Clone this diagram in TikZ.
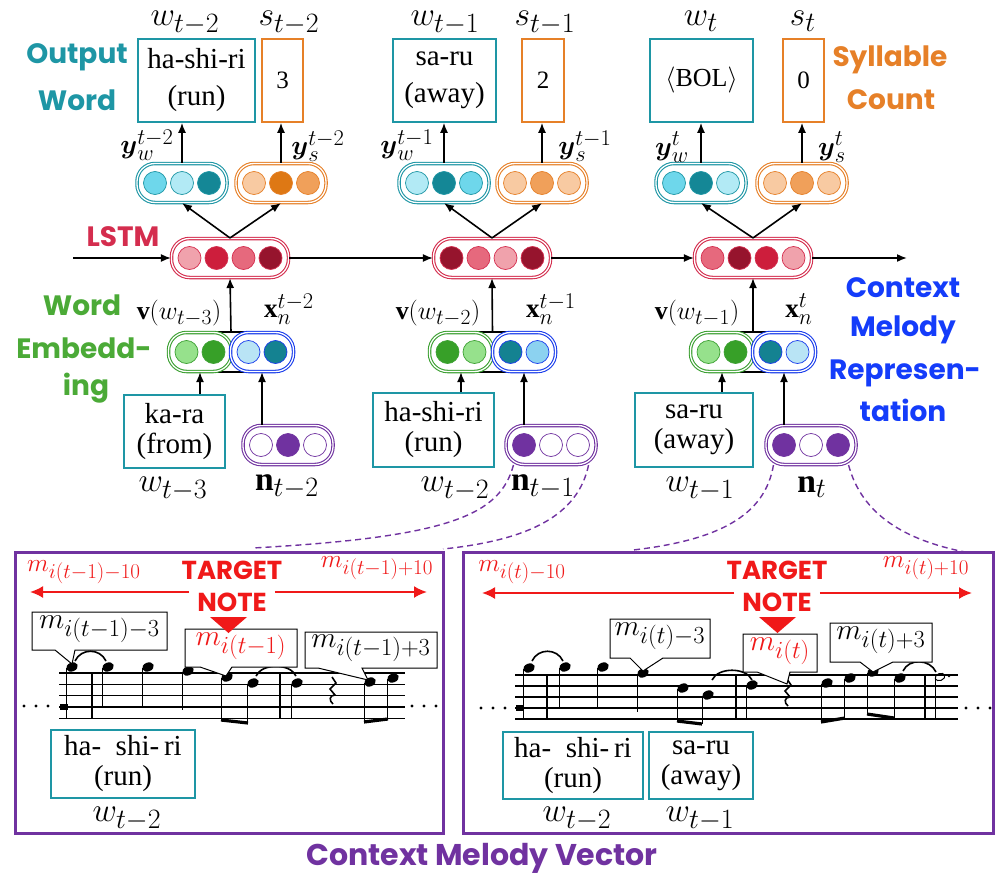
\RequirePackage{fix-cm}
\documentclass[tikz,border=0pt]{standalone}
\usepackage{amsmath}
\usepackage{graphicx}
\usepackage{fontspec}
\setmainfont{Liberation Serif}
\newfontfamily\labfont{Poppins}
\usetikzlibrary{arrows.meta,calc}
\pgfdeclarelayer{bg}
\pgfsetlayers{bg,main}
\DeclareMathSizes{20.74}{20.74}{17.28}{14.4}
\newcommand{\mA}[1]{\scalebox{1.62}{$#1$}}
\newcommand{\mY}[1]{\scalebox{1.3}{$#1$}}
\newcommand{\mV}[1]{\scalebox{1.25}{$#1$}}
\newcommand{\mC}[1]{\scalebox{1.42}{$#1$}}
\newcommand{\mR}[1]{\scalebox{1.22}{$#1$}}
\definecolor{tealc}{RGB}{30,150,165}
\definecolor{orc}{RGB}{230,128,40}
\definecolor{lstmc}{RGB}{212,45,78}
\definecolor{grc}{RGB}{60,160,50}
\definecolor{blc}{RGB}{25,60,235}
\definecolor{puc}{RGB}{112,50,160}
\definecolor{redc}{RGB}{240,25,25}
\definecolor{ctxc}{RGB}{20,60,250}
\definecolor{wordc}{RGB}{75,170,55}
\definecolor{ca}{RGB}{178,234,245}
\definecolor{cb}{RGB}{110,215,235}
\definecolor{cc}{RGB}{20,135,150}
\definecolor{oa}{RGB}{248,202,162}
\definecolor{ob}{RGB}{240,160,90}
\definecolor{oc}{RGB}{222,120,20}
\definecolor{la}{RGB}{240,162,172}
\definecolor{lb}{RGB}{230,105,125}
\definecolor{lc}{RGB}{205,30,60}
\definecolor{ld}{RGB}{150,20,45}
\definecolor{ga}{RGB}{150,225,140}
\definecolor{gb}{RGB}{55,160,40}
\definecolor{ba}{RGB}{185,228,245}
\definecolor{bb}{RGB}{140,210,240}
\definecolor{bc}{RGB}{20,130,145}
\newcommand{\mypill}[5]{%
  \node[pill, draw=#4, minimum width={#3*27+9}] (#1) at (#2) {};
  \foreach \f [count=\i] in {#5} {%
    \filldraw[fill=\f, draw=#4, line width=0.7pt] ($(#1.center)+({(\i-(#3+1)/2)*27},0)$) circle (11.5);
  }%
}
\newcommand{\mynt}[3]{%
  \fill[rotate around={22:(#1,#2)}] (#1,#2) ellipse (6 and 4.4);
  \draw[line width=1.3pt] ({#1-5.2},{#2+1}) -- ({#1-5.2},#3);}
\newcommand{\mybarl}[3]{\draw[line width=2.6pt] (#1,#2) -- (#1,#3);}
\newcommand{\mybeam}[4]{\draw[line width=3.2pt] (#1,#2) -- (#3,#4);}
\newcommand{\mytie}[4]{\draw[line width=1.6pt] (#1,#2) .. controls ({#1+6},{#2-13}) and ({#3-6},{#4-13}) .. (#3,#4);}
\newcommand{\myrest}[2]{\draw[line width=1.6pt] (#1,#2) -- ({#1+4},{#2+6}) -- ({#1-2},{#2+12}) -- ({#1+3},{#2+18}) .. controls ({#1-3},{#2+18}) and ({#1-3},{#2+24}) .. ({#1+1},{#2+27});}
\begin{document}
\begin{tikzpicture}[x=1pt,y=-1pt,
  pill/.style={fill=white, double=white, double distance=1.3pt, line width=1.1pt, rounded corners=18pt, minimum height=39, inner sep=0},
  wbox/.style={draw=tealc, line width=1.6pt, inner sep=0, align=center, fill=white},
  sbox/.style={draw=orc, line width=1.6pt, inner sep=0, align=center, font=\fontsize{25}{30}\selectfont},
  mlab/.style={inner sep=0, font=\fontsize{20.74}{24}\selectfont},
  rlab/.style={mlab, redc},
  lab/.style={inner sep=0, font=\labfont\bfseries\fontsize{28}{32}\selectfont},
  arr/.style={-{Latex[length=10pt,width=8pt]}, line width=1.6pt},
  redarr/.style={-{Latex[length=13pt,width=12pt]}, line width=2pt, redc},
  dsh/.style={puc, line width=1.4pt, dash pattern=on 6pt off 4pt},
  callsty/.style={draw=black, line width=1pt, fill=white},
  topt/.style={font=\fontsize{29}{37}\selectfont},
  lowt/.style={font=\fontsize{29}{30}\selectfont}]
\useasboundingbox (0,0) rectangle (996,875);

% ---------- output boxes ----------
\node[wbox, topt, minimum width=117, minimum height=83] (w1) at (196.5,80.5) {ha-shi-ri\\(run)};
\node[sbox, minimum width=41, minimum height=83] (s1) at (282.5,80.5) {3};
\node[wbox, topt, minimum width=103, minimum height=83] (w2) at (444.5,80.5) {sa-ru\\(away)};
\node[sbox, minimum width=42, minimum height=83] (s2) at (543,80.5) {2};
\node[wbox, font=\fontsize{26}{30}\selectfont, minimum width=103, minimum height=83] (w3) at (701.5,80.5) {$\langle$BOL$\rangle$};
\node[sbox, minimum width=41, minimum height=83] (s3) at (803.5,80.5) {0};

\node[mlab] (lw1) at (185,23) {\mA{w_{t-2}}};
\node[mlab] (ls1) at (289,23) {\mA{s_{t-2}}};
\node[mlab] (lw2) at (445,23) {\mA{w_{t-1}}};
\node[mlab] (ls2) at (545,23) {\mA{s_{t-1}}};
\node[mlab] (lw3) at (701,21) {\mA{w_t}};
\node[mlab] (ls3) at (803,21) {\mA{s_t}};

\node[lab, tealc] (out1) at (77,57) {Output};
\node[lab, tealc] (out2) at (77,100) {Word};
\node[lab, orc] (syl1) at (890,60) {Syllable};
\node[lab, orc] (syl2) at (891,100) {Count};

% ---------- output pills ----------
\mypill{yw1}{182,183}{3}{tealc}{cb,ca,cc}
\mypill{ys1}{281,183}{3}{orc}{oa,oc,ob}
\mypill{yw2}{444,183}{3}{tealc}{ca,cc,cb}
\mypill{ys2}{542,183}{3}{orc}{oa,ob,oa}
\mypill{yw3}{701,183}{3}{tealc}{cb,cc,ca}
\mypill{ys3}{802,183}{3}{orc}{oa,ob,oa}

\node[mlab] (lyw1) at (147,145) {\mY{\boldsymbol{y}_w^{t-2}}};
\node[mlab] (lys1) at (318,146) {\mY{\boldsymbol{y}_s^{t-2}}};
\node[mlab] (lyw2) at (407,145) {\mY{\boldsymbol{y}_w^{t-1}}};
\node[mlab] (lys2) at (585,146) {\mY{\boldsymbol{y}_s^{t-1}}};
\node[mlab] (lyw3) at (672,147) {\mY{\boldsymbol{y}_w^{t}}};
\node[mlab] (lys3) at (832,147) {\mY{\boldsymbol{y}_s^{t}}};

\foreach \c in {1,2,3} {
  \draw[arr] (yw\c.north) -- (yw\c.north |- w\c.south);
  \draw[arr] (ys\c.north) -- (ys\c.north |- s\c.south);
}

% ---------- LSTM ----------
\mypill{lstm1}{230,258}{4}{lstmc}{la,lc,lb,ld}
\mypill{lstm2}{492,258}{4}{lstmc}{ld,lb,la,ld}
\mypill{lstm3}{753,258}{4}{lstmc}{lb,ld,lc,la}
\node[lab, lstmc] (lstmt) at (123,237) {LSTM};
\coordinate (hstart) at (73,258);
\coordinate (hend) at (907,258);
\draw[arr] (hstart) -- (lstm1.west);
\draw[arr] (lstm1.east) -- (lstm2.west);
\draw[arr] (lstm2.east) -- (lstm3.west);
\draw[arr] (lstm3.east) -- (hend);
\foreach \c in {1,2,3} {
  \draw[arr] (lstm\c.north) -- (yw\c.south);
  \draw[arr] (lstm\c.north) -- (ys\c.south);
}

% ---------- embeddings ----------
\mypill{emg1}{200,352}{2}{grc}{ga,gb}
\mypill{emb1}{262,352}{2}{blc}{ba,bc}
\mypill{emg2}{461,352}{2}{grc}{gb,ga}
\mypill{emb2}{524,352}{2}{blc}{bc,bb}
\mypill{emg3}{722,352}{2}{grc}{ga,gb}
\mypill{emb3}{784,352}{2}{blc}{bc,ba}
\begin{pgfonlayer}{bg}
\foreach \c in {1,2,3} {
  \draw[line width=1.3pt] (emg\c.center |- emg\c.north) rectangle (emb\c.center |- emb\c.south);
}
\end{pgfonlayer}
\foreach \c in {1,2,3} {
  \draw[arr] ($(emg\c.north)!0.5!(emb\c.north)$) -- (lstm\c.south);
}
\node[mlab] (lv1) at (179,313) {\mV{\mathbf{v}(w_{t-3})}};
\node[mlab] (lx1) at (289,309) {\mY{\mathbf{x}_n^{t-2}}};
\node[mlab] (lv2) at (438,313) {\mV{\mathbf{v}(w_{t-2})}};
\node[mlab] (lx2) at (551,309) {\mY{\mathbf{x}_n^{t-1}}};
\node[mlab] (lv3) at (697,313) {\mV{\mathbf{v}(w_{t-1})}};
\node[mlab] (lx3) at (799,309) {\mY{\mathbf{x}_n^{t}}};

\node[lab, wordc] (we1) at (82,305) {Word};
\node[lab, wordc] (we2) at (84,348) {Embedd-};
\node[lab, wordc] (we3) at (86,388) {ing};

\node[lab, ctxc] (cm1) at (903,288) {Context};
\node[lab, ctxc] (cm2) at (903,330) {Melody};
\node[lab, ctxc] (cm3) at (905,373) {Represen-};
\node[lab, ctxc] (cm4) at (903,410) {tation};

% ---------- inputs ----------
\node[wbox, lowt, minimum width=101, minimum height=73] (in1) at (174.5,431.5) {ka-ra\\(from)};
\node[wbox, lowt, minimum width=121, minimum height=74] (in2) at (433.5,430) {ha-shi-ri\\(run)};
\node[wbox, lowt, minimum width=118, minimum height=74] (in3) at (694,430) {sa-ru\\(away)};
\mypill{n1}{288,445}{3}{puc}{white,puc,white}
\mypill{n2}{551,445}{3}{puc}{puc,white,white}
\mypill{n3}{811,445}{3}{puc}{puc,white,puc}
\foreach \c in {1,2,3} {
  \draw[arr] (emg\c.south |- in\c.north) -- (emg\c.south);
  \draw[arr] (emb\c.south |- n\c.north) -- (emb\c.south);
}
\node[mlab] (lin1) at (173,489) {\mA{w_{t-3}}};
\node[mlab] (ln1) at (287,487) {\mA{\mathbf{n}_{t-2}}};
\node[mlab] (lin2) at (455,489) {\mA{w_{t-2}}};
\node[mlab] (ln2) at (543,487) {\mA{\mathbf{n}_{t-1}}};
\node[mlab] (lin3) at (700,489) {\mA{w_{t-1}}};
\node[mlab] (ln3) at (812,487) {\mA{\mathbf{n}_{t}}};

% ---------- bottom boxes ----------
\node[draw=puc, line width=3pt, minimum width=428, minimum height=281, inner sep=0] (lbox) at (229,692.5) {};
\node[draw=puc, line width=3pt, minimum width=530, minimum height=281, inner sep=0] (rbox) at (728,692.5) {};
\node[lab, puc, font=\labfont\bfseries\fontsize{30}{34}\selectfont] (cmv) at (482,858) {Context Melody Vector};

\coordinate (d1) at (253,548);
\coordinate (d2) at (443,549);
\coordinate (d3) at (633,550);
\coordinate (d4) at (965,552);
\draw[dsh] ($(n2.south west)+(8,0)$) .. controls (500,515) and (450,537) .. (d1);
\draw[dsh] ($(n2.south east)+(-8,0)$) .. controls (578,515) and (530,540) .. (d2);
\draw[dsh] ($(n3.south west)+(8,0)$) .. controls (765,515) and (720,540) .. (d3);
\draw[dsh] ($(n3.south east)+(-8,0)$) .. controls (862,515) and (905,540) .. (d4);

% ---------- left melody ----------
\node[rlab] (lm10a) at (84,572) {\mR{m_{i(t-1)-10}}};
\node[rlab] (lm10b) at (377,568) {\mR{m_{i(t-1)+10}}};
\node[lab, redc, font=\labfont\bfseries\fontsize{26}{30}\selectfont] (ltg1) at (232,570) {TARGET};
\node[lab, redc, font=\labfont\bfseries\fontsize{26}{30}\selectfont] (ltg2) at (232,602) {NOTE};
\coordinate (la1) at (30,592);
\coordinate (la2) at (427,592);
\draw[redarr] (ltg2.west |- la1) ++(-8,0) -- (la1);
\draw[redarr] (ltg2.east |- la2) ++(8,0) -- (la2);

\foreach \y in {673,684.3,695.6,707,718.3} \draw[line width=1.1pt] (59,\y) -- (405,\y);
\foreach \x in {24,36,48} \fill (\x,706) circle (1.7);
\foreach \x in {412,424,436} \fill (\x,706) circle (1.7);
\fill (60,704) rectangle (68,710);
\mynt{72}{667}{719}
\mybarl{92}{673}{719}
\mynt{108}{667}{707}
\mytie{75}{661}{106}{661}
\mynt{148}{667}{707}
\mynt{188}{671}{710}
\mynt{227}{677}{721}
\mynt{253}{683}{723}
\mybeam{221}{720}{248}{723}
\mybarl{280}{673}{718}
\mynt{297}{683}{719}
\mytie{256}{676}{296}{676}
\myrest{332}{677}
\mynt{370}{682}{722}
\mynt{393}{678}{720}
\mybeam{364}{722}{388}{719}

\draw[callsty] (32,612) -- (167,612) -- (167,650) -- (75,650) -- (72,664) -- (55,650) -- (32,650) -- cycle;
\node[mlab] (lc1) at (99.5,629) {\mC{m_{i(t-1)-3}}};
\draw[callsty] (185,629) -- (297,629) -- (297,667) -- (232,667) -- (226,676) -- (200,667) -- (185,667) -- cycle;
\node[rlab] (lc2) at (241,646) {\mC{m_{i(t-1)}}};
\draw[callsty] (305,632) -- (437,632) -- (437,668) -- (362,668) -- (368,680) -- (318,668) -- (305,668) -- cycle;
\node[mlab] (lc3) at (371,648) {\mC{m_{i(t-1)+3}}};
\fill[redc] (210,617) -- (247,617) -- (228.5,633) -- cycle;

\node[wbox, font=\fontsize{29}{30}\selectfont, minimum width=144, minimum height=68] (bw1) at (123,764) {ha-\ \ shi-\,ri\\(run)};
\node[mlab] (lbw1) at (127,819) {\mA{w_{t-2}}};

% ---------- right melody ----------
\node[rlab] (rm10a) at (522,572) {\mR{m_{i(t)-10}}};
\node[rlab] (rm10b) at (926,568) {\mR{m_{i(t)+10}}};
\node[lab, redc, font=\labfont\bfseries\fontsize{26}{30}\selectfont] (rtg1) at (777,570) {TARGET};
\node[lab, redc, font=\labfont\bfseries\fontsize{26}{30}\selectfont] (rtg2) at (777,602) {NOTE};
\coordinate (ra1) at (482,593);
\coordinate (ra2) at (972,593);
\draw[redarr] (rtg2.west |- ra1) ++(-8,0) -- (ra1);
\draw[redarr] (rtg2.east |- ra2) ++(8,0) -- (ra2);

\foreach \y in {675,686,697,708,719} \draw[line width=1.1pt] (515,\y) -- (958,\y);
\foreach \x in {481,493,505} \fill (\x,708) circle (1.7);
\foreach \x in {966,978,990} \fill (\x,708) circle (1.7);
\fill (516,705) rectangle (524,711);
\mynt{529}{668}{719}
\mybarl{547}{675}{720}
\mynt{565}{667}{708}
\mytie{532}{661}{563}{661}
\mynt{603}{667}{708}
\mynt{643}{673}{712}
\mynt{683}{688}{721}
\mynt{708}{695}{724}
\mybeam{677}{721}{702}{724}
\mytie{712}{680}{752}{680}
\mybarl{736}{675}{720}
\mynt{752}{685}{720}
\myrest{787}{679}
\mynt{827}{683}{722}
\mynt{850}{678}{718}
\mybeam{821}{722}{845}{718}
\mynt{873}{672}{714}
\mynt{900}{678}{718}
\mybeam{867}{714}{894}{718}
\mytie{903}{671}{936}{672}
\mybarl{925}{675}{720}
\draw[line width=1pt, rotate around={20:(940,677)}] (940,677) ellipse (5 and 3.5);
\draw[line width=1.2pt] (935.5,678) -- (935.5,720);
\fill (949,676) circle (1.3);

\draw[callsty] (610,619) -- (710,619) -- (710,658) -- (663,658) -- (643,671) -- (630,658) -- (610,658) -- cycle;
\node[mlab] (rc1) at (660,636) {\mC{m_{i(t)-3}}};
\draw[callsty] (743,634) -- (817,634) -- (817,672) -- (790,672) -- (787,684) -- (757,672) -- (743,672) -- cycle;
\node[rlab] (rc2) at (780,651) {\mC{m_{i(t)}}};
\draw[callsty] (830,623) -- (932,623) -- (932,662) -- (893,662) -- (873,672) -- (860,662) -- (830,662) -- cycle;
\node[mlab] (rc3) at (881,640) {\mC{m_{i(t)+3}}};
\fill[redc] (759,617) -- (796,617) -- (777.5,633) -- cycle;

\node[wbox, font=\fontsize{29}{30}\selectfont, minimum width=140, minimum height=67] (bw2) at (573,765.5) {ha-\ \ shi-\,ri\\(run)};
\node[wbox, font=\fontsize{29}{30}\selectfont, minimum width=104, minimum height=67] (bw3) at (701,765.5) {sa-ru\\(away)};
\node[mlab] (lbw2) at (577,819) {\mA{w_{t-2}}};
\node[mlab] (lbw3) at (700,819) {\mA{w_{t-1}}};
\end{tikzpicture}
\end{document}
